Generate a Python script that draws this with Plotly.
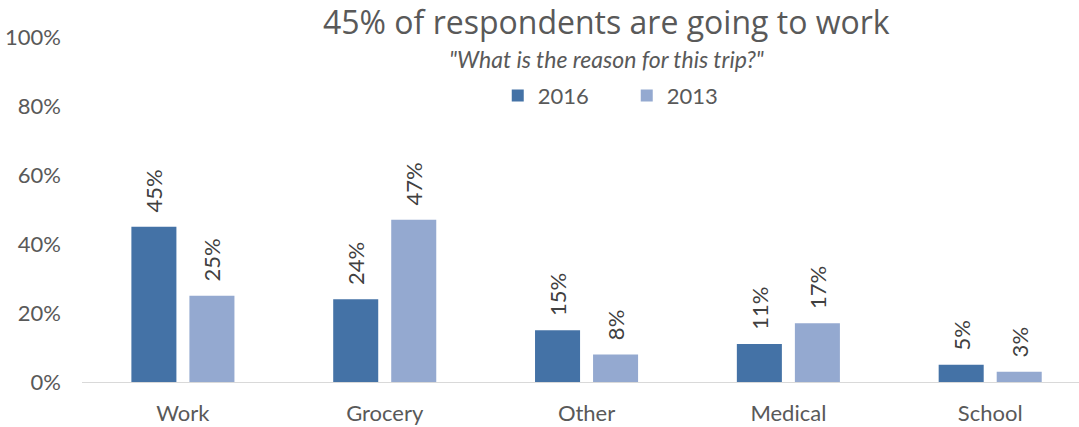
import plotly.graph_objects as go

categories = ["Work", "Grocery", "Other", "Medical", "School"]
values_2016 = [0.45, 0.24, 0.15, 0.11, 0.05]
values_2013 = [0.25, 0.47, 0.08, 0.17, 0.03]
y_ticks = [0, 0.2, 0.4, 0.6, 0.8, 1.0]

FONT = "Lato"
GREY = "#595959"
LABEL = "#404040"
PAD = "\u00a0" * 2  # lifts the rotated value labels off the bar tops

fig = go.Figure()
for name, vals, color in [("2016", values_2016, "#4472A6"), ("2013", values_2013, "#94A9D0")]:
    fig.add_trace(go.Bar(
        x=categories, y=vals, name=name,
        marker=dict(color=color, line=dict(width=0)),
        text=[f"{PAD}{v:.0%}" for v in vals],
        textposition="outside", textangle=-90, constraintext="none",
        textfont=dict(family=FONT, size=22, color=LABEL),
        cliponaxis=False,
    ))

fig.update_layout(
    width=1079, height=427,
    margin=dict(l=82, r=0, t=37, b=45),
    paper_bgcolor="white", plot_bgcolor="white",
    barmode="group", bargap=0.425, bargroupgap=0.224,
    font=dict(family=FONT, color=GREY),
    showlegend=True,
    legend=dict(orientation="h", x=0.417, y=0.83, xanchor="left", yanchor="middle",
                font=dict(family=FONT, size=22, color=GREY),
                itemwidth=30, entrywidth=84, bgcolor="rgba(0,0,0,0)"),
    uniformtext=dict(mode=False),
)
fig.update_xaxes(
    range=[-0.5, 4.44], showline=True, linecolor="#D9D9D9", linewidth=1,
    ticks="", tickfont=dict(family=FONT, size=22, color=GREY), showgrid=False,
    ticklabelstandoff=12,
)
fig.update_yaxes(
    range=[0, 1], tickvals=y_ticks, tickformat=".0%", showgrid=False,
    zeroline=False, showline=False, ticks="", ticklabelstandoff=20,
    tickfont=dict(family=FONT, size=22, color=GREY),
)
fig.add_annotation(text="45% of respondents are going to work", xref="paper", yref="paper",
                   x=0.5256, y=1.045, showarrow=False, xanchor="center", yanchor="middle",
                   font=dict(family="Open Sans", size=32, color=GREY))
fig.add_annotation(text="<i>\"What is the reason for this trip?\"</i>", xref="paper", yref="paper",
                   x=0.5256, y=0.937, showarrow=False, xanchor="center", yanchor="middle",
                   font=dict(family=FONT, size=23, color=GREY))

fig.write_html("out.html")
